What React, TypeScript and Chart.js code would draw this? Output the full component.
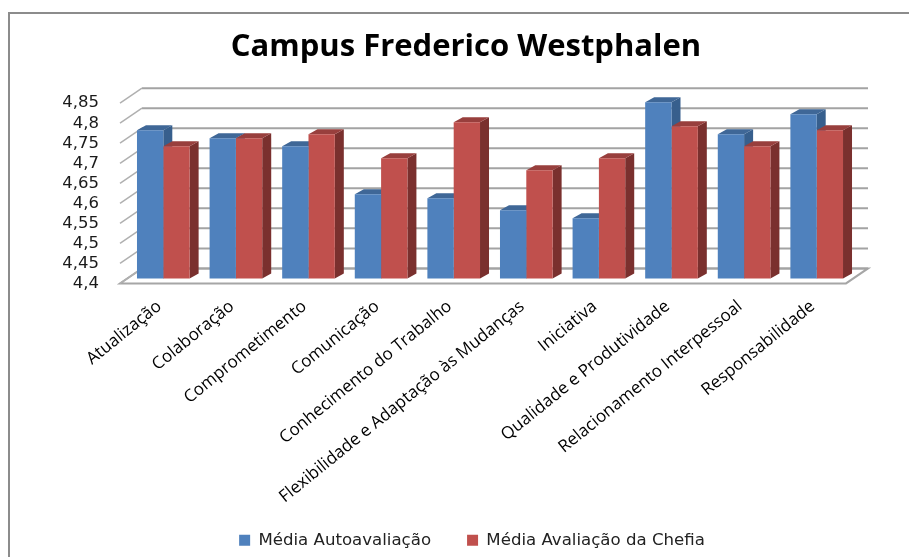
import React, { useEffect, useRef } from "react";
import { Chart, registerables } from "chart.js";

Chart.register(...registerables);

const categories = [
  "Atualização",
  "Colaboração",
  "Comprometimento",
  "Comunicação",
  "Conhecimento do Trabalho",
  "Flexibilidade e Adaptação às Mudanças",
  "Iniciativa",
  "Qualidade e Produtividade",
  "Relacionamento Interpessoal",
  "Responsabilidade",
];
const autoavaliacao = [4.77, 4.75, 4.73, 4.61, 4.6, 4.57, 4.55, 4.84, 4.76, 4.81];
const chefia = [4.73, 4.75, 4.76, 4.7, 4.79, 4.67, 4.7, 4.78, 4.73, 4.77];
const seriesNames = ["Média Autoavaliação", "Média Avaliação da Chefia"];
const yTicks = [4.4, 4.45, 4.5, 4.55, 4.6, 4.65, 4.7, 4.75, 4.8, 4.85];

const FONT = "'Open Sans', sans-serif";
const WIDE = "'DejaVu Sans', sans-serif";
const BACK = { dx: 15, dy: -10 };
const FRONT = { dx: -7, dy: 5 };
const DEPTH = { dx: 9, dy: -5 };
const fmt = (v: number) => String(Math.round(v * 100) / 100).replace(".", ",");

const box3d = {
  id: "box3d",
  afterLayout(chart: any) {
    // rotated category labels run below the axis box, beside the legend
    chart.scales.x.bottom = chart.height;
    const lg = chart.legend;
    lg.left += 6;
    lg.right += 6;
    lg.top += 1.5;
    lg.bottom += 1.5;
  },
  beforeDatasetsDraw(chart: any) {
    const { ctx, scales } = chart;
    const y = scales.y;
    const x = scales.x;
    const base = y.getPixelForValue(y.min);
    const l = x.left;
    const r = x.right;
    ctx.save();
    // floor
    ctx.strokeStyle = "#a6a6a6";
    ctx.lineWidth = 2;
    ctx.fillStyle = "#ffffff";
    ctx.beginPath();
    ctx.moveTo(l + FRONT.dx, base + FRONT.dy);
    ctx.lineTo(r + FRONT.dx, base + FRONT.dy);
    ctx.lineTo(r + BACK.dx, base + BACK.dy);
    ctx.lineTo(l + BACK.dx, base + BACK.dy);
    ctx.closePath();
    ctx.fill();
    ctx.stroke();
    // walls
    y.ticks.forEach((t: any) => {
      const py = y.getPixelForValue(t.value);
      ctx.strokeStyle = "#a3a3a3";
      ctx.lineWidth = 2;
      ctx.beginPath();
      ctx.moveTo(l + BACK.dx, py + BACK.dy);
      ctx.lineTo(r + BACK.dx, py + BACK.dy);
      ctx.stroke();
      ctx.strokeStyle = "#b0b0b0";
      ctx.lineWidth = 1.5;
      ctx.beginPath();
      ctx.moveTo(l + FRONT.dx, py + FRONT.dy);
      ctx.lineTo(l + BACK.dx, py + BACK.dy);
      ctx.stroke();
      ctx.fillStyle = "#1a1a1a";
      ctx.font = "16.5px " + WIDE;
      ctx.textAlign = "right";
      ctx.textBaseline = "middle";
      ctx.fillText(fmt(t.value), l + FRONT.dx - 21, py + FRONT.dy);
    });
    // bar tops and sides
    const shades = [
      { top: "#3f6797", side: "#375f8d" },
      { top: "#983f3d", side: "#7a302e" },
    ];
    chart.getSortedVisibleDatasetMetas().forEach((meta: any, i: number) => {
      meta.data.forEach((b: any) => {
        const x0 = b.x - b.width / 2;
        const x1 = b.x + b.width / 2;
        const t = b.y;
        ctx.fillStyle = shades[i].side;
        ctx.beginPath();
        ctx.moveTo(x1, t);
        ctx.lineTo(x1 + DEPTH.dx, t + DEPTH.dy);
        ctx.lineTo(x1 + DEPTH.dx, base + DEPTH.dy);
        ctx.lineTo(x1, base);
        ctx.closePath();
        ctx.fill();
        ctx.fillStyle = shades[i].top;
        ctx.beginPath();
        ctx.moveTo(x0, t);
        ctx.lineTo(x1, t);
        ctx.lineTo(x1 + DEPTH.dx, t + DEPTH.dy);
        ctx.lineTo(x0 + DEPTH.dx, t + DEPTH.dy);
        ctx.closePath();
        ctx.fill();
      });
    });
    ctx.restore();
  },
};

export default function App() {
  const ref = useRef<HTMLCanvasElement>(null);
  useEffect(() => {
    const chart = new Chart(ref.current as HTMLCanvasElement, {
      type: "bar",
      data: {
        labels: categories,
        datasets: [
          { label: seriesNames[0], data: autoavaliacao, backgroundColor: "#4f81bd", barPercentage: 1, categoryPercentage: 0.725 },
          { label: seriesNames[1], data: chefia, backgroundColor: "#c0504d", barPercentage: 1, categoryPercentage: 0.725 },
        ],
      },
      plugins: [box3d],
      options: {
        animation: false,
        responsive: false,
        layout: { padding: { left: 79, right: 56, top: 0, bottom: 0 } },
        plugins: {
          title: {
            display: true,
            text: "Campus Frederico Westphalen",
            color: "#000000",
            font: { family: FONT, size: 31, weight: "bold" },
            padding: { top: 29, bottom: 32 },
          },
          legend: {
            position: "bottom",
            labels: {
              color: "#222222",
              font: { family: WIDE, size: 16.6 },
              boxWidth: 11,
              boxHeight: 11,
              padding: 36,
            },
          },
          tooltip: { enabled: false },
        },
        scales: {
          x: {
            grid: { display: false },
            border: { display: false },
            afterFit: (s: any) => {
              s.height = 216;
            },
            ticks: {
              autoSkip: false,
              minRotation: 39,
              maxRotation: 39,
              color: "#000000",
              font: { family: FONT, size: 17 },
              padding: 10,
              labelOffset: -4,
            },
          },
          y: {
            min: 4.4,
            max: 4.85,
            grid: { display: false },
            border: { display: false },
            afterFit: (s: any) => {
              s.width = 48;
            },
            afterBuildTicks: (s: any) => {
              s.ticks = yTicks.map((value) => ({ value }));
            },
            ticks: { display: false },
          },
        },
      },
    } as any);
    return () => chart.destroy();
  }, []);
  return (
    <div style={{ position: "absolute", left: 0, top: 0, width: 909, height: 557, background: "#fff", overflow: "hidden" }}>
      <div style={{ position: "absolute", left: 8, top: 12, width: 901, height: 545, borderLeft: "2px solid #8c8c8c", borderTop: "2px solid #8c8c8c", boxSizing: "border-box" }} />
      <canvas ref={ref} width={909} height={557} style={{ position: "absolute", left: 0, top: 0 }} />
    </div>
  );
}
